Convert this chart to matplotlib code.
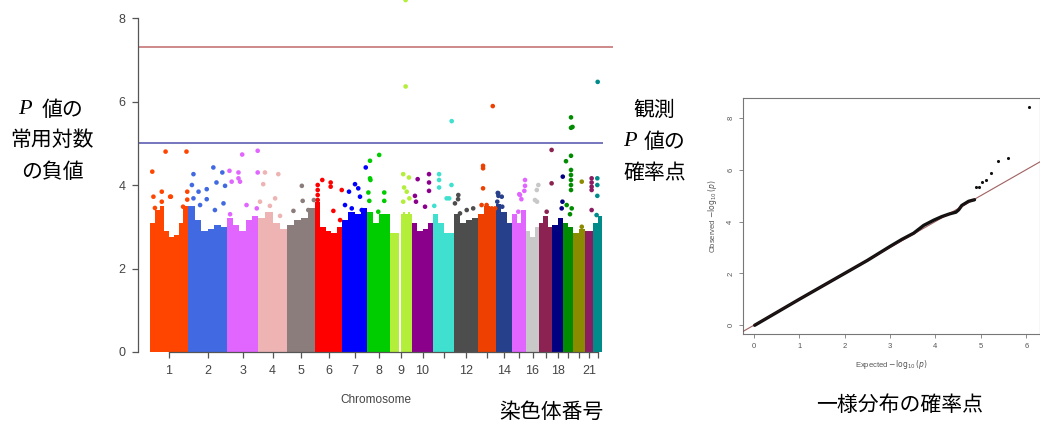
import numpy as np
import matplotlib
matplotlib.use('Agg')
import matplotlib.pyplot as plt

plt.rcParams['font.family'] = ['Liberation Sans', 'Noto Sans CJK JP', 'DejaVu Sans']

# chromosomes: relative plotted widths and colours
chrom_names = [str(i) for i in range(1, 23)]
chrom_width = [38, 39, 31, 29, 28, 27, 25, 23, 22, 21, 21, 24, 18, 16, 14, 13, 13, 11, 10, 12, 8, 9]
chrom_colors = ['#FF4500', '#4169E1', '#E066FF', '#EEB4B4', '#8B7D7B', '#FF0000', '#0000FF',
                '#00CD00', '#B3EE3A', '#8B008B', '#40E0D0', '#4D4D4D', '#EE4000', '#27408B',
                '#E066FF', '#C8C8C8', '#8B2252', '#000080', '#008B00', '#8B8B00', '#8B1C62',
                '#008B8B']
tick_labels = ['1', '2', '3', '4', '5', '6', '7', '8', '9', '10', '', '12', '', '14', '',
               '16', '', '18', '', '', '21', '']

# height of the dense (saturated) cloud of SNPs, left to right inside each chromosome
chrom_profile = [
    [3.1, 3.4, 3.5, 2.9, 2.75, 2.8, 3.1, 3.5],
    [3.5, 3.15, 2.9, 2.95, 3.05, 3.0],
    [3.2, 3.05, 2.9, 3.15, 3.25],
    [3.2, 3.35, 3.1, 2.95],
    [3.05, 3.15, 3.2, 3.45],
    [3.6, 3.0, 2.9, 2.85, 3.0],
    [3.15, 3.35, 3.3, 3.45],
    [3.35, 3.1, 3.3, 3.3],
    [2.85, 2.85, 2.85, 2.85, 0.0, 3.3, 3.35, 3.3, 3.35, 3.3],
    [3.1, 2.9, 2.95, 3.1],
    [3.3, 3.1, 2.85, 2.85],
    [3.3, 3.1, 3.15, 3.2],
    [3.3, 3.5, 3.4],
    [3.55, 3.35, 3.1],
    [3.3, 3.1, 3.4],
    [2.9, 2.75, 3.0],
    [3.1, 3.25, 3.0],
    [3.05, 3.2],
    [3.1, 3.0],
    [2.85, 2.95],
    [2.9],
    [3.1, 3.25],
]

# individual SNPs above the dense cloud: chromosome, relative position, -log10(p)
snp_chrom = ([1] * 12 + [2] * 13 + [3] * 11 + [4] * 7 + [5] * 5 + [6] * 10 + [7] * 8
             + [8] * 9 + [9] * 8 + [10] * 7 + [11] * 8 + [12] * 6 + [13] * 8 + [14] * 7
             + [15] * 8 + [16] * 4 + [17] * 3 + [18] * 3 + [19] * 13 + [20] * 2 + [21] * 5
             + [22] * 5)
snp_frac = [.41, .96, .06, .31, .09, .53, .31, .13, .87, .98, .98, .55,
            .65, .14, .88, .73, .95, .10, .27, .48, .48, .91, .69, .14, .31,
            .49, .99, .08, .37, .37, .15, .42, .63, .96, .10, .99,
            .24, .70, .18, .07, .59, .41, .76,
            .53, .56, .96, .23, .76,
            .27, .58, .58, .99, .10, .10, .10, .10, .68, .93,
            .95, .52, .28, .65, .72, .12, .39, .79,
            .53, .13, .13, .15, .06, .10, .75, .75, .49,
            .71, .71, .60, .86, .64, .76, .88, .60,
            .27, .81, .81, .81, .14, .19, .62,
            .89, .29, .29, .29, .06, .88, .77, .65,
            .18, .17, .04, .53, .80, .25,
            .82, .28, .28, .28, .48, .20, .76, .95,
            .14, .15, .08, .39, .54, .11, .36,
            .93, .93, .88, .57, .67, .45, .21, .52,
            .83, .95, .69, .85,
            .97, .97, .59,
            .98, .88, .95,
            .80, .80, .95, .80, .30, .80, .80, .80, .80, .80, .37, .87, .70,
            .73, .73,
            .83, .83, .83, .83, .83,
            .52, .48, .48, .48, .40]
snp_logp = [4.80, 4.80, 4.32, 3.84, 3.72, 3.72, 3.60, 3.45, 3.48, 3.84, 3.65, 3.72,
            4.42, 4.26, 4.30, 4.06, 3.98, 4.00, 3.84, 3.90, 3.66, 3.56, 3.40, 3.68, 3.52,
            4.73, 4.82, 4.34, 4.30, 4.16, 4.08, 4.08, 3.52, 3.44, 3.30, 4.30,
            4.30, 4.26, 4.02, 3.60, 3.68, 3.50, 3.26,
            3.98, 3.62, 3.64, 3.38, 3.40,
            4.12, 4.06, 3.96, 3.88, 4.00, 3.88, 3.76, 3.64, 3.38, 3.16,
            4.42, 4.02, 3.84, 3.92, 3.72, 3.52, 3.44, 3.40,
            4.72, 4.58, 4.16, 4.12, 3.82, 3.62, 3.82, 3.62, 3.36,
            8.43, 6.36, 4.26, 4.18, 3.94, 3.84, 3.68, 3.60,
            4.14, 4.26, 4.06, 3.86, 3.74, 3.60, 3.48,
            5.53, 4.26, 4.12, 3.94, 3.50, 4.00, 3.68, 3.68,
            3.76, 3.66, 3.56, 3.40, 3.44, 3.32,
            5.89, 4.46, 4.40, 3.92, 3.52, 3.52, 3.44, 3.44,
            3.80, 3.74, 3.60, 3.48, 3.30, 3.81, 3.72,
            4.12, 3.98, 3.86, 3.76, 3.66, 3.36, 3.24, 3.78,
            3.88, 4.00, 3.64, 3.60,
            4.84, 4.04, 3.36,
            4.20, 3.44, 3.60,
            5.62, 5.37, 5.39, 4.70, 4.57, 4.36, 4.24, 4.12, 4.00, 3.88, 3.52, 3.44, 3.30,
            4.08, 3.00,
            4.16, 4.06, 3.96, 3.88, 3.40,
            6.47, 4.16, 4.00, 3.74, 3.28]

suggestive_line = 5.0
genomewide_line = -np.log10(5e-8)

# QQ plot: dense part of the curve and the separated tail
qq_expected = [0.02, 1.0, 2.0, 2.5, 3.0, 3.26, 3.52, 3.74, 3.85, 3.96, 4.14, 4.32, 4.45, 4.51, 4.58, 4.73, 4.86]
qq_observed = [0.0, 1.0, 2.0, 2.5, 3.04, 3.31, 3.55, 3.85, 3.95, 4.05, 4.19, 4.30, 4.36, 4.45, 4.62, 4.78, 4.84]
qq_tail_expected = [4.89, 4.95, 5.02, 5.11, 5.22, 5.37, 5.59, 6.07]
qq_tail_observed = [5.32, 5.34, 5.53, 5.62, 5.88, 6.34, 6.43, 8.42]

W, H = 1040, 421
fig = plt.figure(figsize=(W / 100, H / 100), dpi=100)

def fx(px):
    return px / W

def fy(py):
    return 1 - py / H

# ---------------- Manhattan plot ----------------
ax1 = fig.add_axes([fx(138), fy(352), fx(613) - fx(138), fy(0) - fy(352)])
starts = np.concatenate([[0], np.cumsum(chrom_width)[:-1]])
centers = starts + np.array(chrom_width) / 2

for i in range(len(chrom_names)):
    prof = chrom_profile[i]
    edges = starts[i] + np.linspace(0, chrom_width[i], len(prof) + 1)
    ax1.stairs(prof, edges, fill=True, color=chrom_colors[i], baseline=0, lw=0)

snp_x = [starts[c - 1] + f * chrom_width[c - 1] for c, f in zip(snp_chrom, snp_frac)]
snp_col = [chrom_colors[c - 1] for c in snp_chrom]
ax1.scatter(snp_x, snp_logp, s=11, c=snp_col, linewidths=0, clip_on=False, zorder=3)

ax1.axhline(genomewide_line, color='#c06a6a', lw=1.1)
ax1.hlines(suggestive_line, -12, sum(chrom_width) + 1, color='#6a6ab8', lw=1.3)

ax1.set_xlim(-12, sum(chrom_width) + 11)
ax1.set_ylim(0, 352 / 41.75)
for s in ['top', 'right']:
    ax1.spines[s].set_visible(False)
ax1.spines['left'].set_bounds(0, 8)
ax1.spines['bottom'].set_bounds(centers[0], centers[-1])
for s in ['left', 'bottom']:
    ax1.spines[s].set_color('#555555')
    ax1.spines[s].set_linewidth(0.9)
ax1.set_yticks([0, 2, 4, 6, 8])
ax1.set_xticks(centers)
ax1.set_xticklabels(tick_labels)
ax1.tick_params(axis='y', length=4, width=0.9, color='#555555', labelsize=9,
                labelcolor='#444444', pad=5)
ax1.tick_params(axis='x', length=4.5, width=0.9, color='#555555', labelsize=9,
                labelcolor='#444444', pad=5)
ax1.set_xlabel('Chromosome', fontsize=8.5, color='#444444', labelpad=12)

# ---------------- QQ plot ----------------
ax2 = fig.add_axes([fx(742.7), fy(334.3), fx(1040.4) - fx(742.7), fy(98.3) - fy(334.3)])
ax2.axline((0, 0), (1, 1), color='#cc9a9a', lw=0.9, zorder=1)
ax2.plot(qq_expected, qq_observed, color='#111111', lw=2.4, solid_capstyle='round', zorder=2)
ax2.axline((0, 0), (1, 1), color='#5a1a1a', lw=0.5, alpha=0.5, zorder=3)
ax2.scatter(qq_tail_expected, qq_tail_observed, s=5, color='#111111', linewidths=0, zorder=3)
ax2.set_xlim(-0.243, 6.31)
ax2.set_ylim(-0.347, 8.75)
ax2.set_xticks(range(0, 7))
ax2.set_yticks([0, 2, 4, 6, 8])
for s in ax2.spines.values():
    s.set_color('#777777')
    s.set_linewidth(0.8)
ax2.tick_params(length=3, width=0.6, color='#777777', labelsize=5.5, labelcolor='#555555', pad=3)
plt.setp(ax2.get_yticklabels(), rotation=90, va='center')
ax2.set_xlabel(r'Expected $-\log_{10}(p)$', fontsize=5.5, color='#555555', labelpad=6)
ax2.set_ylabel(r'Observed $-\log_{10}(p)$', fontsize=5.5, color='#555555', labelpad=6)

# ---------------- Japanese annotations ----------------
jp = dict(family=['Noto Sans CJK JP', 'DejaVu Sans'], fontsize=15, ha='center', va='center', color='black')
pit = dict(family=['Liberation Serif', 'DejaVu Serif'], style='italic', fontsize=16,
           ha='center', va='center', color='black')

fig.text(fx(25), fy(110), 'P', **pit)
fig.text(fx(63), fy(110), '値の', **jp)
fig.text(fx(52), fy(140), '常用対数', **jp)
fig.text(fx(52), fy(172), 'の負値', **jp)

fig.text(fx(654), fy(110), '観測', **jp)
fig.text(fx(630), fy(142), 'P', **pit)
fig.text(fx(664), fy(142), '値の', **jp)
fig.text(fx(655), fy(173), '確率点', **jp)

fig.text(fx(551), fy(412), '染色体番号', **jp)
fig.text(fx(900), fy(405), '一様分布の確率点', **jp)

fig.savefig('out.png', dpi=100)
